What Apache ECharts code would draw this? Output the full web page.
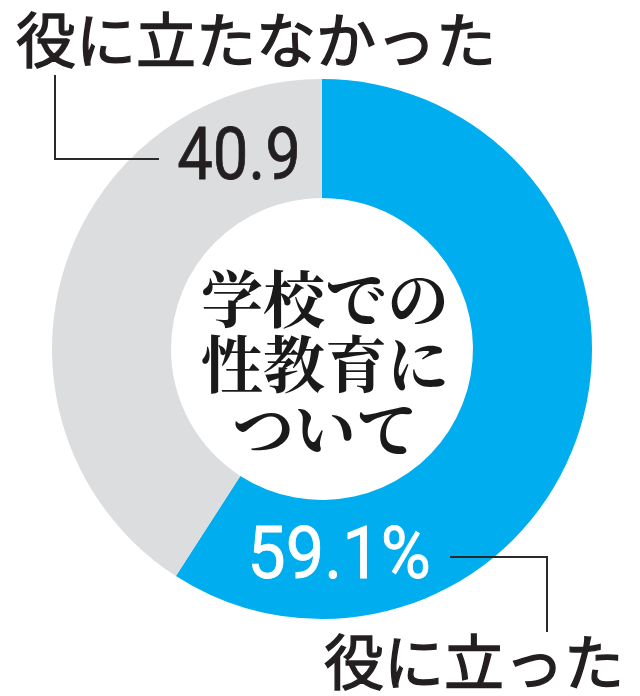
<!DOCTYPE html>
<html>
<head>
<meta charset="utf-8">
<script src="https://cdn.jsdelivr.net/npm/echarts@6/dist/echarts.min.js"></script>
<style>
  html, body { margin: 0; padding: 0; background: #ffffff; }
  #chart { width: 640px; height: 696px; }
</style>
</head>
<body>
<div id="chart"></div>
<script>
const categories = ['役に立った', '役に立たなかった'];
const values = [59.1, 40.9];
const valueLabels = ['59.1%', '40.9'];
const sliceColors = ['#00ADEE', '#DCDDDF'];
const centerTitle = ['学校での', '性教育に', 'ついて'];

const chart = echarts.init(document.getElementById('chart'), null, { renderer: 'canvas' });

const jpSans = '"Noto Sans CJK JP", "Noto Sans", sans-serif';
const jpSerif = '"Noto Serif CJK JP", "Noto Sans CJK JP", serif';
const numFont = 'Roboto, "Liberation Sans", sans-serif';
const lineColor = '#2a2a2a';
const ink = '#231f20';

const option = {
  backgroundColor: '#ffffff',
  animation: false,
  series: [{
    type: 'pie',
    z: 2,
    center: [322, 349],
    radius: [151, 270],
    startAngle: 90,
    clockwise: true,
    silent: true,
    label: { show: false },
    labelLine: { show: false },
    emphasis: { disabled: true },
    data: categories.map((c, i) => ({
      name: c,
      value: values[i],
      itemStyle: { color: sliceColors[i] }
    }))
  }],
  graphic: {
    elements: [
      { type: 'text', z: 100, x: 16, y: 40, style: { text: categories[1], font: 'normal 60px ' + jpSans, fill: ink, stroke: ink, lineWidth: 1.4, align: 'left', verticalAlign: 'middle' } },
      { type: 'polyline', z: 100, shape: { points: [[55, 75], [55, 159], [159, 159]] }, style: { stroke: lineColor, lineWidth: 2, fill: null } },
      { type: 'text', z: 100, x: 239, y: 161, scaleX: 0.88, style: { text: valueLabels[1], font: 'normal 72px ' + numFont, fill: ink, stroke: ink, lineWidth: 0.8, align: 'center', verticalAlign: 'middle' } },
      { type: 'text', z: 100, x: 339, y: 560, scaleX: 0.95, style: { text: valueLabels[0], font: 'normal 72px ' + numFont, fill: '#ffffff', stroke: '#ffffff', lineWidth: 0.8, align: 'center', verticalAlign: 'middle' } },
      { type: 'polyline', z: 100, shape: { points: [[450, 557], [547, 557], [547, 632]] }, style: { stroke: lineColor, lineWidth: 2, fill: null } },
      { type: 'text', z: 100, x: 624, y: 662, style: { text: categories[0], font: 'normal 60px ' + jpSans, fill: ink, stroke: ink, lineWidth: 1.4, align: 'right', verticalAlign: 'middle' } },
      { type: 'text', z: 100, x: 325, y: 364, style: { text: centerTitle.join('\n'), font: 'bold 62px ' + jpSerif, lineHeight: 65, fill: '#1a1a1a', align: 'center', verticalAlign: 'middle' } }
    ]
  }
};

chart.setOption(option);
</script>
</body>
</html>
